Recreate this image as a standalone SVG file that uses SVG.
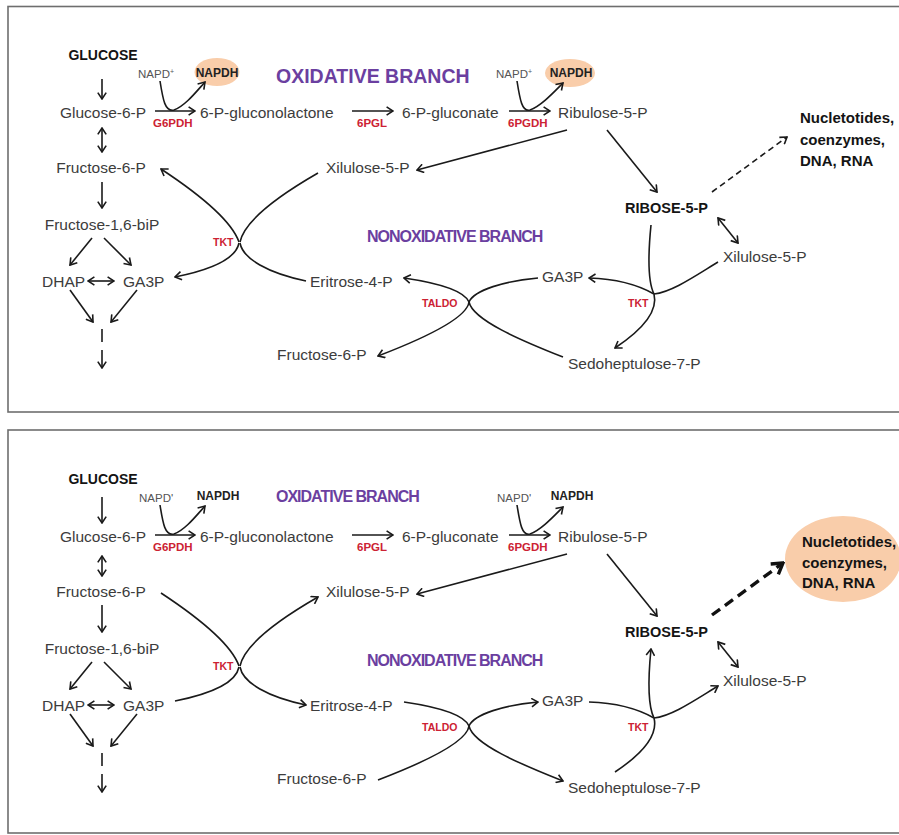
<svg xmlns="http://www.w3.org/2000/svg" width="899" height="835" viewBox="0 0 899 835">
<defs>
<style>
text{font-family:"Liberation Sans",Arial,sans-serif}
.m{font-size:15.5px;fill:#3c3c3c}
.bk{font-weight:bold;fill:#141414}
.en{font-size:11.5px;font-weight:bold;fill:#cc2233}
.tk{font-size:10.5px;font-weight:bold;fill:#cc2233}
.np{font-size:11.5px;fill:#555}
.nh{font-size:12px;font-weight:bold;fill:#222}
.pu{font-weight:bold;fill:#6b3fa0}
.ln{fill:none;stroke:#1a1a1a;stroke-width:1.6}
.e{marker-end:url(#a)}
.s{marker-start:url(#a)}
.panel{fill:#fff;stroke:#6e6e6e;stroke-width:1.6}
.pe{fill:#f9cdaa}
</style>
<marker id="a" viewBox="0 0 8 10" refX="7.2" refY="5" markerWidth="8" markerHeight="10" markerUnits="userSpaceOnUse" orient="auto-start-reverse"><path d="M0.8,0.8 L7.2,5 L0.8,9.2" fill="none" stroke="#1a1a1a" stroke-width="1.6"/></marker>
<marker id="ab" viewBox="0 0 14 16" refX="12" refY="8" markerWidth="14" markerHeight="16" markerUnits="userSpaceOnUse" orient="auto"><path d="M1.5,1.5 L12,8 L1.5,14.5" fill="none" stroke="#111" stroke-width="3.4"/></marker>
</defs>
<rect x="0" y="0" width="899" height="835" fill="#fff"/>
<rect class="panel" x="8" y="6.5" width="900" height="405.5"/>
<rect class="panel" x="8" y="430" width="900" height="403"/>

<!-- TOP PANEL -->
<g id="top-labels">
<text class="pu" x="276" y="83" font-size="19.5">OXIDATIVE BRANCH</text>
<text class="pu" x="367" y="242" font-size="16" letter-spacing="-1">NONOXIDATIVE BRANCH</text>
<text class="en" x="153" y="127">G6PDH</text>
<text class="en" x="357" y="127">6PGL</text>
<text class="en" x="508" y="127">6PGDH</text>
<text class="tk" x="213" y="246">TKT</text>
<text class="tk" x="422" y="307">TALDO</text>
<text class="tk" x="628" y="307">TKT</text>
</g>
<g id="t-glucose"><text class="bk" x="103" y="60" font-size="14" text-anchor="middle">GLUCOSE</text></g>
<g id="t-g6p"><text class="m" x="103" y="118" text-anchor="middle">Glucose-6-P</text></g>
<g id="t-f6p"><text class="m" x="101" y="173" text-anchor="middle">Fructose-6-P</text></g>
<g id="t-f16bp"><text class="m" x="102" y="230" text-anchor="middle">Fructose-1,6-biP</text></g>
<g id="t-dhap"><text class="m" x="42" y="287">DHAP</text></g>
<g id="t-ga3p-l"><text class="m" x="123" y="287">GA3P</text></g>
<g id="t-napd1"><text class="np" x="138" y="78">NAPD<tspan font-size="7" dy="-4">+</tspan></text></g>
<g id="t-napdh1"><ellipse class="pe" cx="217" cy="72" rx="22.5" ry="14"/><text class="nh" x="217" y="77" text-anchor="middle">NAPDH</text></g>
<g id="t-6pgl"><text class="m" x="200" y="118">6-P-gluconolactone</text></g>
<g id="t-6pg"><text class="m" x="402" y="118">6-P-gluconate</text></g>
<g id="t-napd2"><text class="np" x="496" y="78">NAPD<tspan font-size="7" dy="-4">+</tspan></text></g>
<g id="t-napdh2"><ellipse class="pe" cx="570" cy="73" rx="25" ry="14"/><text class="nh" x="571" y="77" text-anchor="middle">NAPDH</text></g>
<g id="t-ru5p"><text class="m" x="558" y="118">Ribulose-5-P</text></g>
<g id="t-xu5p-m"><text class="m" x="326" y="173">Xilulose-5-P</text></g>
<g id="t-r5p"><text class="bk" x="625" y="213" font-size="14.5">RIBOSE-5-P</text></g>
<g id="t-nuc"><text class="bk" font-size="15"><tspan x="800" y="123">Nucletotides,</tspan><tspan x="800" y="145">coenzymes,</tspan><tspan x="800" y="166">DNA, RNA</tspan></text></g>
<g id="t-xu5p-r"><text class="m" x="723" y="262">Xilulose-5-P</text></g>
<g id="t-ga3p-r"><text class="m" x="542" y="282">GA3P</text></g>
<g id="t-s7p"><text class="m" x="568" y="369">Sedoheptulose-7-P</text></g>
<g id="t-e4p"><text class="m" x="310" y="287">Eritrose-4-P</text></g>
<g id="t-f6p-m"><text class="m" x="277" y="360">Fructose-6-P</text></g>

<g id="top-connectors">
<path class="ln e" d="M102,79 L102,99"/>
<path class="ln e s" d="M102,128 L102,152"/>
<path class="ln e" d="M102,182 L102,208"/>
<path class="ln e" d="M92,238 L70,265"/>
<path class="ln e" d="M104,238 L131,265"/>
<path class="ln e s" d="M88,281 L114,281"/>
<path class="ln e" d="M70,290 L93,322"/>
<path class="ln e" d="M137,290 L111,322"/>
<path class="ln" d="M102,329 L102,342"/>
<path class="ln e" d="M102,350 L102,368"/>
<path class="ln e" d="M155,111 L195,111"/>
<path class="ln e" d="M160,81 C163,100 165,112 174,110 C185,106 196,92 205,82"/>
<path class="ln e" d="M352,111 L393,111"/>
<path class="ln e" d="M509,111 L550,111"/>
<path class="ln e" d="M517,81 C520,100 522,112 530,110 C541,106 553,93 563,83"/>
<path class="ln e" d="M567,130 L417,170"/>
<path class="ln e" d="M607,130 L657,192"/>
<path class="ln e" stroke-dasharray="6 4" d="M712,192 L787,137"/>
<path class="ln e s" d="M718,218 L738,243"/>
<!-- TKT left -->
<path class="ln e" d="M239,242 C232,222 205,198 161,169"/>
<path class="ln" d="M318,173 C285,192 245,218 240,242"/>
<path class="ln e" d="M239,243 C236,258 215,269 175,277"/>
<path class="ln" d="M240,243 C243,259 268,273 306,281"/>
<!-- TALDO -->
<path class="ln e" d="M469,302 C465,293 445,284 404,278"/>
<path class="ln" d="M538,278 C505,281 474,290 469,302"/>
<path class="ln e" d="M469,302 C467,318 425,338 378,356"/>
<path class="ln" d="M469,302 C473,320 520,340 563,357"/>
<!-- TKT right -->
<path class="ln" d="M651,225 C648,255 648,282 654,294"/>
<path class="ln e" d="M654,294 C658,310 645,328 615,348"/>
<path class="ln" d="M718,262 C695,276 672,292 654,294"/>
<path class="ln e" d="M654,294 C640,286 620,279 589,278"/>
</g>

<!-- BOTTOM PANEL -->
<g transform="translate(0,424)">
<g id="bottom-labels">
<text class="pu" x="276" y="78" font-size="16" letter-spacing="-1">OXIDATIVE BRANCH</text>
<text class="pu" x="367" y="242" font-size="16" letter-spacing="-1">NONOXIDATIVE BRANCH</text>
<text class="en" x="153" y="127">G6PDH</text>
<text class="en" x="357" y="127">6PGL</text>
<text class="en" x="508" y="127">6PGDH</text>
<text class="tk" x="213" y="246">TKT</text>
<text class="tk" x="422" y="307">TALDO</text>
<text class="tk" x="628" y="307">TKT</text>
</g>
<g id="b-glucose"><text class="bk" x="103" y="60" font-size="14" text-anchor="middle">GLUCOSE</text></g>
<g id="b-g6p"><text class="m" x="103" y="118" text-anchor="middle">Glucose-6-P</text></g>
<g id="b-f6p"><text class="m" x="101" y="173" text-anchor="middle">Fructose-6-P</text></g>
<g id="b-f16bp"><text class="m" x="102" y="230" text-anchor="middle">Fructose-1,6-biP</text></g>
<g id="b-dhap"><text class="m" x="42" y="287">DHAP</text></g>
<g id="b-ga3p-l"><text class="m" x="123" y="287">GA3P</text></g>
<g id="b-napd1"><text class="np" x="139" y="78">NAPD'</text></g>
<g id="b-napdh1"><text class="nh" x="218" y="76" text-anchor="middle">NAPDH</text></g>
<g id="b-6pgl"><text class="m" x="200" y="118">6-P-gluconolactone</text></g>
<g id="b-6pg"><text class="m" x="402" y="118">6-P-gluconate</text></g>
<g id="b-napd2"><text class="np" x="497" y="78">NAPD'</text></g>
<g id="b-napdh2"><text class="nh" x="572" y="76" text-anchor="middle">NAPDH</text></g>
<g id="b-ru5p"><text class="m" x="558" y="118">Ribulose-5-P</text></g>
<g id="b-xu5p-m"><text class="m" x="326" y="173">Xilulose-5-P</text></g>
<g id="b-r5p"><text class="bk" x="625" y="213" font-size="14.5">RIBOSE-5-P</text></g>
<g id="b-nuc"><ellipse class="pe" cx="843" cy="135" rx="58" ry="43"/><text class="bk" font-size="15"><tspan x="802" y="123">Nucletotides,</tspan><tspan x="802" y="144">coenzymes,</tspan><tspan x="802" y="164">DNA, RNA</tspan></text></g>
<g id="b-xu5p-r"><text class="m" x="723" y="262">Xilulose-5-P</text></g>
<g id="b-ga3p-r"><text class="m" x="542" y="282">GA3P</text></g>
<g id="b-s7p"><text class="m" x="568" y="369">Sedoheptulose-7-P</text></g>
<g id="b-e4p"><text class="m" x="310" y="287">Eritrose-4-P</text></g>
<g id="b-f6p-m"><text class="m" x="277" y="360">Fructose-6-P</text></g>

<g id="bottom-connectors">
<path class="ln e" d="M102,73 L102,99"/>
<path class="ln e s" d="M102,132 L102,152"/>
<path class="ln e" d="M102,181 L102,208"/>
<path class="ln e" d="M92,238 L70,265"/>
<path class="ln e" d="M104,238 L131,265"/>
<path class="ln e s" d="M88,281 L114,281"/>
<path class="ln e" d="M70,290 L93,322"/>
<path class="ln e" d="M137,290 L111,322"/>
<path class="ln" d="M102,329 L102,342"/>
<path class="ln e" d="M102,350 L102,368"/>
<path class="ln e" d="M155,111 L195,111"/>
<path class="ln e" d="M160,81 C163,100 165,112 174,110 C185,106 196,92 205,82"/>
<path class="ln e" d="M352,111 L393,111"/>
<path class="ln e" d="M509,111 L550,111"/>
<path class="ln e" d="M517,81 C520,100 522,112 530,110 C541,106 553,93 563,83"/>
<path class="ln e" d="M567,130 L417,170"/>
<path class="ln e" d="M607,130 L657,192"/>
<path fill="none" stroke="#111" stroke-width="3.4" stroke-dasharray="10 6" marker-end="url(#ab)" d="M712,191 L783,139"/>
<path class="ln e s" d="M718,218 L738,243"/>
<!-- TKT left -->
<path class="ln" d="M239,242 C232,222 205,198 161,169"/>
<path class="ln s" d="M318,173 C285,192 245,218 240,242"/>
<path class="ln" d="M239,243 C236,258 215,269 175,277"/>
<path class="ln e" d="M240,243 C243,259 268,273 306,281"/>
<!-- TALDO -->
<path class="ln" d="M469,302 C465,293 445,284 404,278"/>
<path class="ln s" d="M538,278 C505,281 474,290 469,302"/>
<path class="ln" d="M469,302 C467,318 425,338 378,356"/>
<path class="ln e" d="M469,302 C473,320 520,340 563,357"/>
<!-- TKT right -->
<path class="ln s" d="M651,225 C648,255 648,282 654,294"/>
<path class="ln" d="M654,294 C658,310 645,328 615,348"/>
<path class="ln s" d="M718,262 C695,276 672,292 654,294"/>
<path class="ln" d="M654,294 C640,286 620,279 589,278"/>
</g>
</g>
</svg>
